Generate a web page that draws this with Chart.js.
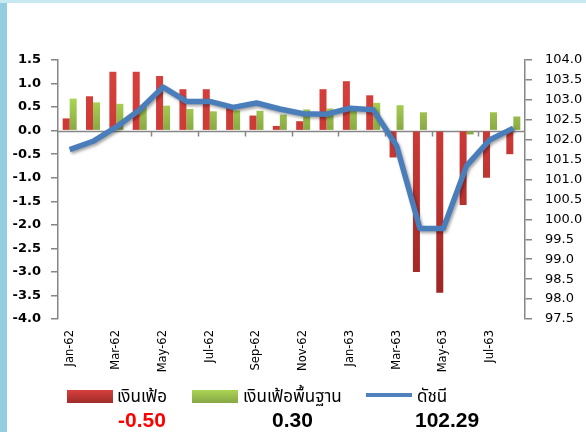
<!DOCTYPE html>
<html>
<head>
<meta charset="utf-8">
<script src="https://cdn.jsdelivr.net/npm/chart.js@4.4.1/dist/chart.umd.min.js"></script>
<style>
  html, body { margin:0; padding:0; background:#fff; }
  body { width:586px; height:432px; position:relative; overflow:hidden; font-family:"Liberation Sans", Arial, sans-serif; }
  #leftStrip { position:absolute; left:0; top:0; width:7px; height:432px; background:#93cddf; }
  #topStrip { position:absolute; left:0; top:0; width:586px; height:3px; background:#c6e9f2; }
  #wrap { position:absolute; left:0; top:0; width:586px; height:385px; }
  .sw { position:absolute; height:13px; width:46px; }
  .lt { position:absolute; font-family:"Noto Sans Thai","Noto Sans","DejaVu Sans",sans-serif; font-size:17px; color:#000; line-height:20px; white-space:nowrap; }
  .lv { position:absolute; font-family:"Liberation Sans", Arial, sans-serif; font-weight:bold; font-size:21px; line-height:22px; white-space:nowrap; }
</style>
</head>
<body>
<div id="leftStrip"></div>
<div id="topStrip"></div>
<div id="wrap"><canvas id="c" width="586" height="385"></canvas></div>

<div class="sw" style="left:67px; top:390px; background:linear-gradient(#d8403c,#9e2b2a);"></div>
<div class="lt" style="left:117px; top:387px;">เงินเฟ้อ</div>
<div class="lv" style="left:118px; top:409px; color:#ff0000;">-0.50</div>

<div class="sw" style="left:192px; top:390px; background:linear-gradient(#aad552,#87a646);"></div>
<div class="lt" style="left:243px; top:387px;">เงินเฟ้อพื้นฐาน</div>
<div class="lv" style="left:272px; top:409px; color:#000;">0.30</div>

<div class="sw" style="left:366px; top:393px; height:4px; background:#4f81bd;"></div>
<div class="lt" style="left:417px; top:387px;">ดัชนี</div>
<div class="lv" style="left:415px; top:409px; color:#000;">102.29</div>

<script>
const categories = ['Jan-62','Feb-62','Mar-62','Apr-62','May-62','Jun-62','Jul-62','Aug-62','Sep-62','Oct-62',
                    'Nov-62','Dec-62','Jan-63','Feb-63','Mar-63','Apr-63','May-63','Jun-63','Jul-63','Aug-63'];
const headlineInflation = [0.26, 0.73, 1.25, 1.25, 1.16, 0.88, 0.88, 0.48, 0.32, 0.10,
                           0.20, 0.88, 1.05, 0.75, -0.57, -3.00, -3.44, -1.58, -1.00, -0.50];
const coreInflation = [0.68, 0.60, 0.57, 0.55, 0.53, 0.46, 0.41, 0.43, 0.42, 0.34,
                       0.45, 0.47, 0.45, 0.59, 0.54, 0.39, 0.00, -0.08, 0.39, 0.30];
const priceIndex = [101.75, 101.96, 102.32, 102.75, 103.32, 102.96, 102.96, 102.81, 102.92, 102.77,
                    102.65, 102.64, 102.79, 102.75, 101.85, 99.77, 99.77, 101.35, 102.00, 102.29];
const leftTicks = { min: -4.0, max: 1.5, step: 0.5 };
const rightTicks = { min: 97.5, max: 104.0, step: 0.5 };

const AXIS = '#868686';

function redGrad(ctx) {
  const ch = ctx.chart, a = ch.chartArea;
  if (!a) return '#cc3a36';
  const y = ch.scales.y;
  const g = ch.ctx.createLinearGradient(0, a.top, 0, a.bottom);
  const z = (y.getPixelForValue(0) - a.top) / (a.bottom - a.top);
  g.addColorStop(0, '#da423e');
  g.addColorStop(z, '#cc3a36');
  g.addColorStop(1, '#962322');
  return g;
}
function greenGrad(ctx) {
  const ch = ctx.chart, a = ch.chartArea;
  if (!a) return '#9bbb59';
  const y = ch.scales.y;
  const z = y.getPixelForValue(0);
  const g = ch.ctx.createLinearGradient(0, y.getPixelForValue(0.7), 0, z);
  g.addColorStop(0, '#acd653');
  g.addColorStop(1, '#88a845');
  return g;
}

const zeroAxis = {
  id: 'zeroAxis',
  beforeDatasetsDraw(chart) {
    const { ctx, chartArea: a, scales: { x, y } } = chart;
    const y0 = Math.round(y.getPixelForValue(0)) + 0.5;
    const half = (x.getPixelForValue(1) - x.getPixelForValue(0)) / 2;
    ctx.save();
    ctx.strokeStyle = AXIS;
    ctx.lineWidth = 1.5;
    ctx.beginPath();
    ctx.moveTo(a.left, y0);
    ctx.lineTo(a.right, y0);
    for (let k = 2; k < categories.length; k += 2) {
      const px = Math.round(x.getPixelForValue(k) - half) + 0.5;
      ctx.moveTo(px, y0);
      ctx.lineTo(px, y0 + 5);
    }
    ctx.stroke();
    ctx.restore();
  }
};

const lineShadow = {
  id: 'lineShadow',
  beforeDatasetDraw(chart, args) {
    if (args.index === 2) {
      const ctx = chart.ctx;
      ctx.save();
      ctx.shadowColor = 'rgba(0,0,0,0.35)';
      ctx.shadowBlur = 3;
      ctx.shadowOffsetX = 1.5;
      ctx.shadowOffsetY = 2;
    }
  },
  afterDatasetDraw(chart, args) {
    if (args.index === 2) chart.ctx.restore();
  }
};

new Chart(document.getElementById('c'), {
  type: 'bar',
  data: {
    labels: categories,
    datasets: [
      { label: 'เงินเฟ้อ', data: headlineInflation, backgroundColor: redGrad, yAxisID: 'y', order: 2,
        barPercentage: 1.0, categoryPercentage: 0.6 },
      { label: 'เงินเฟ้อพื้นฐาน', data: coreInflation, backgroundColor: greenGrad, yAxisID: 'y', order: 2,
        barPercentage: 1.0, categoryPercentage: 0.6 },
      { label: 'ดัชนี', type: 'line', data: priceIndex, yAxisID: 'y1', order: 0,
        borderColor: '#4a7ebb', borderWidth: 5.5, pointRadius: 0, tension: 0, fill: false,
        borderJoinStyle: 'round', borderCapStyle: 'butt' }
    ]
  },
  options: {
    responsive: false,
    animation: false,
    devicePixelRatio: 1,
    layout: { padding: { left: 0, right: 0, top: 60, bottom: 0 } },
    plugins: { legend: { display: false }, tooltip: { enabled: false } },
    scales: {
      x: {
        grid: { display: false, drawTicks: false },
        border: { display: false },
        ticks: {
          autoSkip: false, maxRotation: 90, minRotation: 90, padding: 11,
          color: '#000', font: { family: 'DejaVu Sans', size: 11.5 },
          callback: function(v, i) { return i % 2 === 0 ? categories[i] : ''; }
        },
        afterFit(s) { s.height = 66; }
      },
      y: {
        position: 'left',
        min: leftTicks.min, max: leftTicks.max,
        grid: { drawOnChartArea: false, color: AXIS, tickLength: 7, lineWidth: 1.5 },
        border: { display: true, color: AXIS, width: 1.5 },
        ticks: {
          stepSize: leftTicks.step, padding: 10, color: '#000',
          font: { family: 'DejaVu Sans', size: 13, weight: 'bold' },
          callback: v => Number(v).toFixed(1)
        },
        afterFit(s) { s.width = 58; }
      },
      y1: {
        position: 'right',
        min: rightTicks.min, max: rightTicks.max,
        grid: { drawOnChartArea: false, color: AXIS, tickLength: 7, lineWidth: 1.5 },
        border: { display: true, color: AXIS, width: 1.5 },
        ticks: {
          stepSize: rightTicks.step, padding: 13, color: '#000',
          font: { family: 'DejaVu Sans', size: 13 },
          callback: v => Number(v).toFixed(1)
        },
        afterFit(s) { s.width = 61; }
      }
    }
  },
  plugins: [zeroAxis, lineShadow]
});
</script>
</body>
</html>
